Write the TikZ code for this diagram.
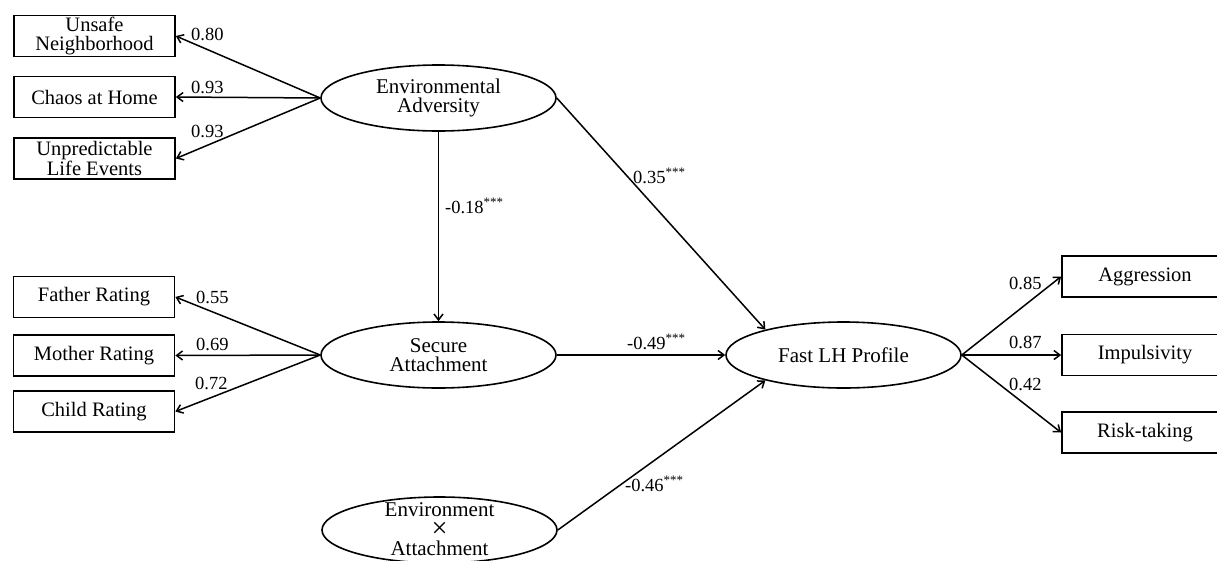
\documentclass[tikz,border=0pt]{standalone}
\usepackage{fontspec}
\setmainfont{Liberation Serif}
\usetikzlibrary{shapes.geometric,arrows.meta}
\begin{document}
\begin{tikzpicture}[x=1pt,y=-1pt,
  box/.style={draw,line width=1.7pt,minimum width=161pt,minimum height=41pt,inner sep=0pt,
    font=\fontsize{20.5}{19.5}\selectfont,align=center},
  rbox/.style={box,minimum width=166pt},
  lat/.style={draw,ellipse,line width=1.6pt,minimum width=235pt,minimum height=66pt,inner sep=0pt},
  lattext/.style={font=\fontsize{21}{19.5}\selectfont,align=center,inner sep=0pt},
  coef/.style={font=\fontsize{18.5}{20}\selectfont,anchor=base west,inner sep=0pt},
  path/.style={line width=1.5pt,-{Straight Barb[length=6pt,width=9pt,line width=1.5pt]}}]
\clip (0,0) rectangle (1217,560);
% indicators left
\node[box] (UN) at (94.5,36) {Unsafe\\Neighborhood};
\node[box] (CH) at (94.5,97) {Chaos at Home};
\node[box] (UL) at (94.5,158.5) {Unpredictable\\Life Events};
\node[box] (FR) at (94,297) {Father Rating};
\node[box] (MR) at (94,355.5) {Mother Rating};
\node[box] (CR) at (94,411.5) {Child Rating};
% indicators right
\node[rbox] (AG) at (1145,276.5) {Aggression};
\node[rbox] (IM) at (1145,355) {Impulsivity};
\node[rbox] (RT) at (1145,432.5) {Risk-taking};
% latent variables
\node[lat] (EA) at (438.5,98) {};
\node[lattext] (EAt) at (EA) {Environmental\\Adversity};
\node[lat] (SA) at (438.5,355) {};
\node[lattext] (SAt) at (SA) {Secure\\Attachment};
\node[lat] (FL) at (843.5,355) {};
\node[lattext] (FLt) at (FL) {Fast LH Profile};
\node[lat] (IA) at (439.5,530) {};
\node[lattext] (IAt) at (439.5,529) {Environment\\\raisebox{-1.5pt}{\scalebox{1.35}{×}}\\Attachment};
% loadings
\draw[path] (EA.west) -- (UN.east);
\draw[path] (EA.west) -- (CH.east);
\draw[path] (EA.west) -- (UL.east);
\draw[path] (SA.west) -- (FR.east);
\draw[path] (SA.west) -- (MR.east);
\draw[path] (SA.west) -- (CR.east);
\draw[path] (FL.east) -- (AG.west);
\draw[path] (FL.east) -- (IM.west);
\draw[path] (FL.east) -- (RT.west);
% structural paths
\draw[path] (EA.south) -- (SA.north);
\draw[path] (EA.east) -- (FL.162);
\draw[path] (SA.east) -- (FL.west);
\draw[path] (IA.east) -- (FL.198);
% coefficients
\node[coef] (c1) at (191,40) {0.80};
\node[coef] (c2) at (191,93) {0.93};
\node[coef] (c3) at (191,137) {0.93};
\node[coef] (c4) at (196,303) {0.55};
\node[coef] (c5) at (196,350) {0.69};
\node[coef] (c6) at (195,389) {0.72};
\node[coef] (c7) at (1009,289) {0.85};
\node[coef] (c8) at (1009,348) {0.87};
\node[coef] (c9) at (1009,390) {0.42};
\node[coef] (c10) at (633,183) {0.35\textsuperscript{***}};
\node[coef] (c11) at (445,213) {-0.18\textsuperscript{***}};
\node[coef] (c12) at (627,349) {-0.49\textsuperscript{***}};
\node[coef] (c13) at (625,491) {-0.46\textsuperscript{***}};
\end{tikzpicture}
\end{document}
